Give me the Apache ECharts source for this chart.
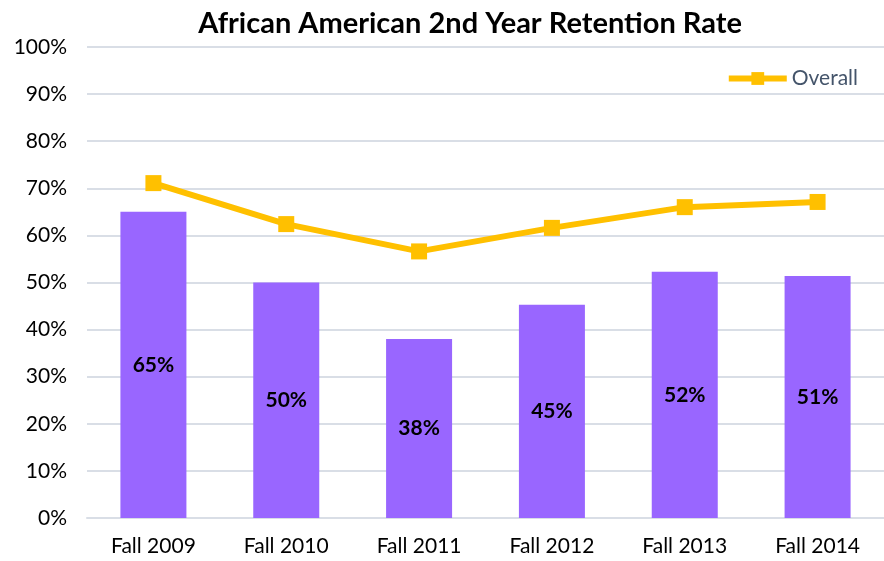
<!DOCTYPE html>
<html>
<head>
<meta charset="utf-8">
<script src="https://cdn.jsdelivr.net/npm/echarts@6/dist/echarts.min.js"></script>
<style>
  html, body { margin: 0; padding: 0; background: #fff; }
  #chart { width: 884px; height: 561px; }
</style>
</head>
<body>
<div id="chart"></div>
<script>
// data
const categories = ['Fall 2009', 'Fall 2010', 'Fall 2011', 'Fall 2012', 'Fall 2013', 'Fall 2014']
const africanAmerican = [65, 50, 38, 45.3, 52.3, 51.4]
const overall = [71.1, 62.4, 56.6, 61.6, 66.0, 67.1]

const font = 'Lato, "Open Sans", sans-serif'

const chart = echarts.init(document.getElementById('chart'))
chart.setOption({
  backgroundColor: '#fff',
  animation: false,
  title: {
    text: 'African American 2nd Year Retention Rate',
    left: 465,
    textAlign: 'center',
    top: 4,
    textStyle: { fontFamily: font, fontSize: 29, fontWeight: 'bold', color: '#000' }
  },
  legend: {
    data: ['Overall'],
    right: 21,
    top: 63,
    itemWidth: 58,
    itemHeight: 16,
    itemGap: 3,
    lineStyle: { width: 6 },
    textStyle: { fontFamily: font, fontSize: 21, color: '#44546A' }
  },
  grid: { left: 87, right: 0, top: 47, bottom: 43, containLabel: false },
  xAxis: {
    type: 'category',
    data: categories,
    axisLine: { show: true, lineStyle: { color: '#D9DEE6', width: 2 } },
    axisTick: { show: false },
    axisLabel: { fontFamily: font, fontSize: 21, color: '#000', margin: 18 }
  },
  yAxis: {
    type: 'value',
    min: 0,
    max: 100,
    interval: 10,
    axisLine: { show: false },
    axisTick: { show: false },
    axisLabel: { fontFamily: font, fontSize: 21, color: '#000', margin: 20, formatter: '{value}%' },
    splitLine: { lineStyle: { color: '#D9DEE6', width: 2 } }
  },
  series: [
    {
      name: 'African American',
      type: 'bar',
      data: africanAmerican,
      barWidth: 66,
      itemStyle: { color: '#9966FF' },
      label: {
        show: true,
        position: 'inside',
        fontFamily: font,
        fontSize: 21,
        fontWeight: 'bold',
        color: '#000',
        formatter: p => Math.round(p.value) + '%'
      }
    },
    {
      name: 'Overall',
      type: 'line',
      data: overall,
      symbol: 'rect',
      symbolSize: 16,
      lineStyle: { color: '#FFC000', width: 6 },
      itemStyle: { color: '#FFC000' },
      z: 5
    }
  ]
})
</script>
</body>
</html>
